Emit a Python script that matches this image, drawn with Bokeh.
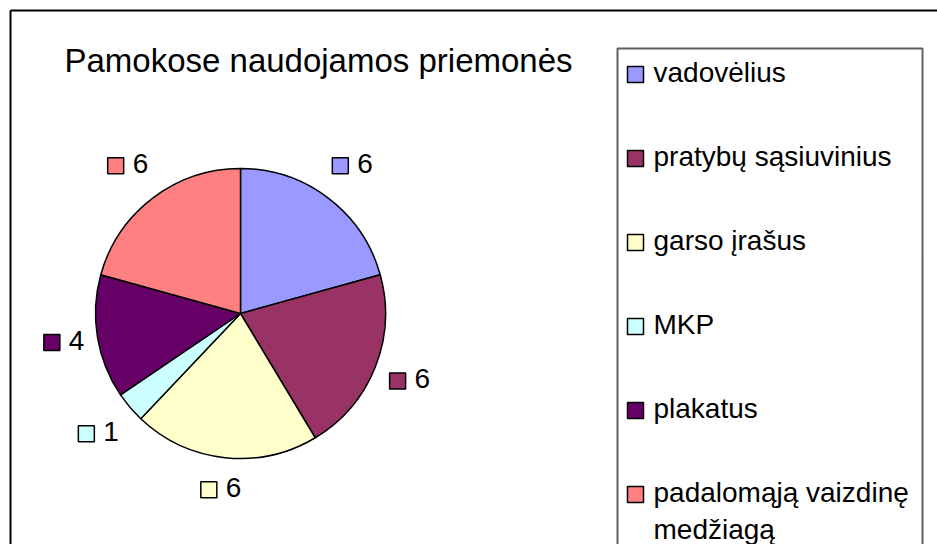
import numpy as np
from bokeh.plotting import figure
from bokeh.models import Range1d
from bokeh.core.properties import value
from bokeh.embed import file_html
from bokeh.resources import INLINE

# ---- data ----
title = "Pamokose naudojamos priemonės"
categories = ["vadovėlius", "pratybų sąsiuvinius", "garso įrašus", "MKP",
              "plakatus", "padalomąją vaizdinę medžiagą"]
counts = [6, 6, 6, 1, 4, 6]
colors = ["#9999FF", "#993366", "#FFFFCC", "#CCFFFF", "#660066", "#FF8080"]

FONT = value("Liberation Sans")
FS = 28       # label / legend font size (px)
TFS = 33      # title font size (px)
SHIFT = 0.37  # compensation of rendered baseline offset (fraction of font size)

W, H = 937, 544
p = figure(width=W, height=H, x_range=Range1d(0, W), y_range=Range1d(-H, 0),
           output_backend="svg", toolbar_location=None, min_border=0,
           x_axis_location=None, y_axis_location=None)
p.grid.visible = False
p.outline_line_color = None
p.background_fill_color = "white"


def ty(baseline, fs):
    """data y that puts the text baseline at the given page row"""
    return -(baseline - SHIFT * fs)


# chart area border (top and left edges visible)
p.segment(x0=[10, 10], y0=[-10, -10], x1=[960, 10], y1=[-10, -600],
          line_color="black", line_width=2)

# title
p.text(x=[318], y=[ty(72, TFS)], text=[title], text_font=FONT,
       text_font_size=f"{TFS}px", text_align="center", text_baseline="alphabetic",
       text_color="black")

# pie
cx, cy, R = 240, 313, 145
vals = np.array(counts, dtype=float)
total = vals.sum()
cum_after = np.cumsum(vals)
cum_before = cum_after - vals
start = np.pi / 2 - 2 * np.pi * cum_before / total
end = np.pi / 2 - 2 * np.pi * cum_after / total
p.wedge(x=cx, y=-cy, radius=R, start_angle=start, end_angle=end, direction="clock",
        fill_color=colors, line_color="black", line_width=1.5)

# data labels (square key + value) outside the pie along each slice bisector;
# diagonal directions are pushed a little further out (box-shaped label offset)
mid = (start + end) / 2
D = 175 + 11 * np.abs(np.sin(2 * mid))
lx = cx + D * np.cos(mid)
lyp = cy - D * np.sin(mid)          # page row of label centre
p.rect(x=lx - 12.5, y=-lyp, width=16, height=16, fill_color=colors,
       line_color="black", line_width=1.5)
p.text(x=lx + 4.5, y=[ty(b, FS) for b in lyp + 8], text=[str(v) for v in counts],
       text_font=FONT, text_font_size=f"{FS}px", text_align="left",
       text_baseline="alphabetic", text_color="black")

# legend box
p.quad(left=[617], right=[922], top=[-48], bottom=[-600], fill_color=None,
       line_color="#606060", line_width=2)


def wrap(s, maxlen=20):
    if len(s) <= maxlen:
        return [s]
    cut = s.rfind(" ", 0, maxlen)
    return [s[:cut], s[cut + 1:]]


rows = 82 + 84 * np.arange(len(categories))   # baseline of each legend entry
p.rect(x=[635] * len(categories), y=-(rows - 8), width=16, height=16,
       fill_color=colors, line_color="black", line_width=1.5)
lx_, ly_, lt_ = [], [], []
for b, c in zip(rows, categories):
    for j, line in enumerate(wrap(c)):
        lx_.append(653)
        ly_.append(ty(b + 37 * j, FS))
        lt_.append(line)
p.text(x=lx_, y=ly_, text=lt_, text_font=FONT, text_font_size=f"{FS}px",
       text_align="left", text_baseline="alphabetic", text_color="black")

open("out.html", "w").write(file_html(p, INLINE))
